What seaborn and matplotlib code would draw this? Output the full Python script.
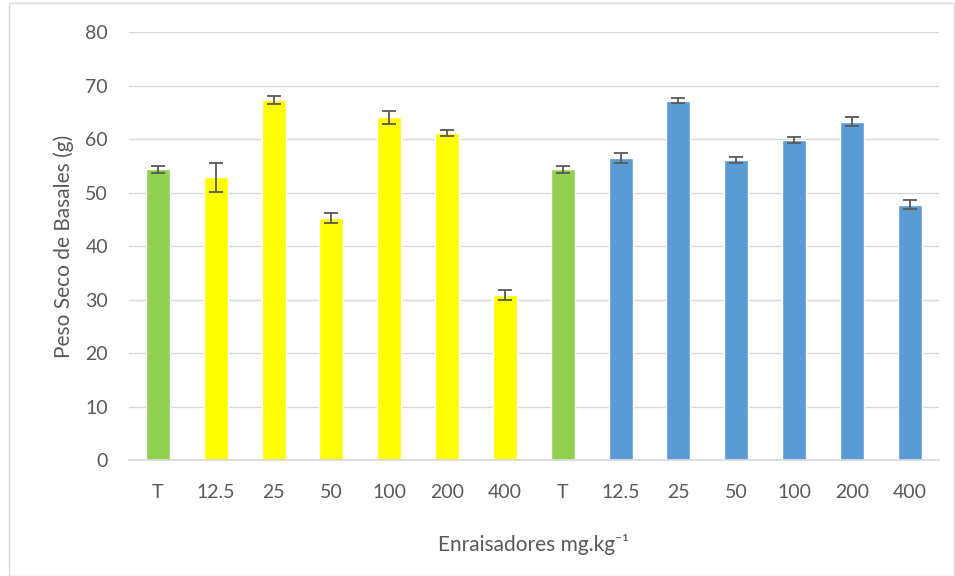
import numpy as np
import pandas as pd
import seaborn as sns
import matplotlib.pyplot as plt
from matplotlib.patches import Rectangle

# dose labels for the two groups of rooting agents
labels = ['T', '12.5', '25', '50', '100', '200', '400',
          'T', '12.5', '25', '50', '100', '200', '400']
groups = ['Control', 'A', 'A', 'A', 'A', 'A', 'A',
          'Control', 'B', 'B', 'B', 'B', 'B', 'B']
peso = [54.4, 52.9, 67.3, 45.3, 64.1, 61.2, 30.9,
        54.4, 56.5, 67.2, 56.1, 59.9, 63.3, 47.8]
err = [0.65, 2.7, 0.75, 0.9, 1.2, 0.55, 1.0,
       0.65, 0.95, 0.5, 0.5, 0.55, 0.9, 0.9]

palette = {'Control': '#92D050', 'A': '#FFFF00', 'B': '#5B9BD5'}
text_col = '#595959'

sns.set_theme(style="white")
plt.rcParams['font.family'] = ['Lato', 'DejaVu Sans']

df = pd.DataFrame({
    'pos': [f'{i}_{l}' for i, l in enumerate(labels)],
    'peso': peso,
    'grupo': groups,
    'err': err,
})

fig = plt.figure(figsize=(9.55, 5.76), dpi=100)
ax = fig.add_axes([0.135, 0.201, 0.848, 0.743])

sns.barplot(data=df, x='pos', y='peso', hue='grupo', palette=palette,
            dodge=False, width=0.415, legend=False, ax=ax, errorbar=None,
            saturation=1)

ax.errorbar(np.arange(len(peso)), df['peso'], yerr=df['err'], fmt='none',
            ecolor='#595959', elinewidth=1.3, capsize=5, capthick=1.3, zorder=5)

ax.set_ylim(0, 80)
ax.set_xlim(-0.5, len(peso) - 0.5)
ax.set_yticks(range(0, 81, 10))
ax.set_xticks(range(len(labels)))
ax.set_xticklabels(labels)
ax.yaxis.grid(True, color='#D9D9D9', linewidth=1)
ax.set_axisbelow(True)
for s in ['top', 'right', 'left']:
    ax.spines[s].set_visible(False)
ax.spines['bottom'].set_color('#D9D9D9')
ax.tick_params(axis='both', length=0, labelsize=14, colors=text_col)
ax.tick_params(axis='y', pad=15)
ax.tick_params(axis='x', pad=17)

ax.set_xlabel('Enraisadores mg.kg\u207b\u00b9', fontsize=15, color=text_col, labelpad=24)
ax.set_ylabel('Peso Seco de Basales (g)', fontsize=15, color=text_col, labelpad=8)

# chart border
fig.patches.append(Rectangle((0.009, 0.0), 0.99, 0.994, transform=fig.transFigure,
                             fill=False, edgecolor='#D9D9D9', linewidth=1))

fig.savefig('out.png', dpi=100)
